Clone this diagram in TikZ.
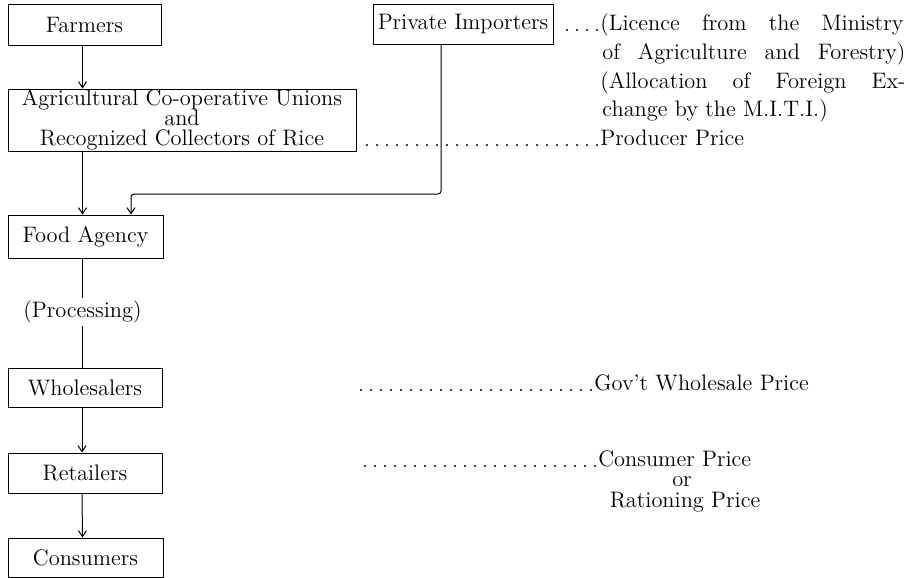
\documentclass[tikz,border=0pt]{standalone}
\usetikzlibrary{arrows.meta,calc}
\newcommand\fs{\fontsize{11.2}{13}\selectfont}
\begin{document}
\begin{tikzpicture}[x=0.5pt,y=-0.5pt,
  box/.style={draw, line width=0.5pt, inner sep=0pt, font=\fs},
  arr/.style={-{Straight Barb[length=3pt,width=4pt]}, line width=0.5pt},
  plain/.style={line width=0.5pt},
  dots/.style={line width=1.1pt, line cap=round, dash pattern=on 0pt off 5pt},
  txt/.style={inner sep=0pt, anchor=base west, font=\fs},
  ctxt/.style={inner sep=0pt, anchor=base, font=\fs}]
\path[use as bounding box] (0,0) rectangle (910,578);
% boxes
\node[box, minimum width=76.5pt, minimum height=20.5pt] (farm) at (84.5,24.5) {Farmers};
\node[box, minimum width=90pt, minimum height=20pt] (pi) at (463,24) {Private Importers};
\node[box, minimum width=174pt, minimum height=31pt, align=center] (ag) at (182,120)
  {Agricultural Co-operative Unions\\[-3pt] and\\[-3pt] Recognized Collectors of Rice};
\node[box, minimum width=77.5pt, minimum height=21.5pt] (food) at (85.5,236.5) {Food Agency};
\node[inner sep=1pt, font=\fs] (proc) at (82.5,312) {(Processing)};
\node[box, minimum width=77pt, minimum height=19.5pt] (whole) at (85,387.5) {Wholesalers};
\node[box, minimum width=77pt, minimum height=20pt] (ret) at (85,473) {Retailers};
\node[box, minimum width=77.5pt, minimum height=19.5pt] (cons) at (85.5,557.5) {Consumers};
% right-hand texts
\node[txt] (l1) at (600,30) {\makebox[151.5pt][s]{(Licence from the Ministry}};
\node[txt] (l2) at (602,59) {\makebox[151.5pt][s]{of Agriculture and Forestry)}};
\node[txt] (l3) at (600,88) {\makebox[152.5pt][s]{(Allocation of Foreign Ex-}};
\node[txt] (l4) at (602,116) {change by the M.I.T.I.)};
\node[txt] (prod) at (600,145) {Producer Price};
\node[txt] (gw) at (594,390) {Gov't Wholesale Price};
\node[txt] (cp) at (598,466) {Consumer Price};
\node[ctxt] (or) at (682,486) {or};
\node[ctxt] (rp) at (685,507) {Rationing Price};
% connectors
\draw[arr] ([xshift=-1pt]farm.south) -- ([xshift=-1pt]farm.south |- ag.north);
\draw[arr] ([xshift=-1.5pt]ag.south -| food.north) -- ([xshift=-1.5pt]food.north);
\coordinate (pturn) at (441,194);
\coordinate (pend) at (131,194);
\draw[arr, rounded corners=1.5pt] (pi.south -| pturn) -- (pturn) -- (pend) -- (pend |- food.north);
\draw[plain] (proc.north |- food.south) -- (proc.north);
\draw[plain] (proc.south) -- (proc.south |- whole.north);
\draw[arr] ([xshift=-1.5pt]whole.south) -- ([xshift=-1.5pt]ret.north);
\draw[arr] ([xshift=-1.5pt]ret.south) -- ([xshift=-1.5pt]cons.north);
% dotted leaders (drawn from the text back towards the start)
\draw[dots] ($(l1.base west)+(-1.5pt,0)$) -- ($(pi.east |- l1.base)+(2pt,0)$);
\draw[dots] ($(prod.base west)+(-1.5pt,0)$) -- ($(ag.east |- prod.base)+(4pt,0)$);
\coordinate (gwstart) at (360,390);
\draw[dots] ($(gw.base west)+(-1.5pt,0)$) -- (gwstart);
\coordinate (cpstart) at (360,466);
\draw[dots] ($(cp.base west)+(-1.5pt,0)$) -- (cpstart);
\end{tikzpicture}
\end{document}
